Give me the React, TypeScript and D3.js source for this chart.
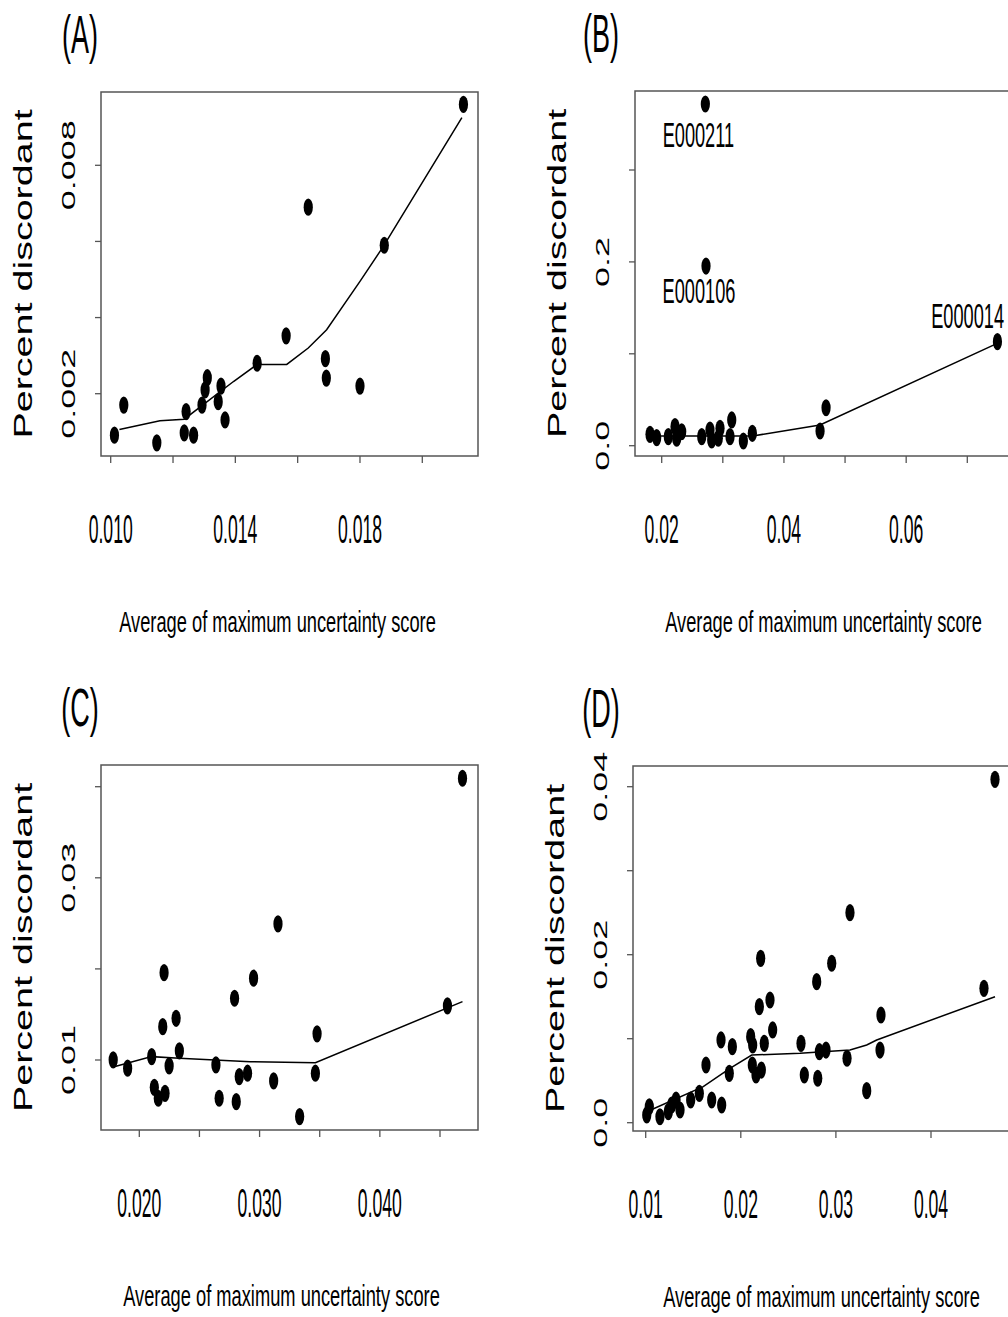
import * as React from 'react';
import * as d3 from 'd3';

// ---- data ----
const pointsA = [
  [0.01012, 0.00091], [0.01042, 0.0017], [0.01148, 0.00071], [0.01242, 0.00153], [0.01236, 0.00097],
  [0.01266, 0.00091], [0.01293, 0.0017], [0.01303, 0.0021], [0.0131, 0.00242], [0.01345, 0.00179],
  [0.01354, 0.0022], [0.01367, 0.00131], [0.0147, 0.0028], [0.01563, 0.00352], [0.01634, 0.0069],
  [0.01689, 0.00292], [0.01692, 0.00241], [0.018, 0.0022], [0.01878, 0.0059], [0.02132, 0.0096],
];
const lineA = [
  [0.01028, 0.00106], [0.01158, 0.00129], [0.01236, 0.00133], [0.01394, 0.00232], [0.0147, 0.00277],
  [0.01565, 0.00277], [0.01634, 0.0032], [0.01693, 0.00368], [0.018, 0.00495], [0.01875, 0.00587],
  [0.02127, 0.00925],
];

const pointsB = [
  [0.01809, 0.0124], [0.01918, 0.0087], [0.02108, 0.0098], [0.02218, 0.0207], [0.02245, 0.0081],
  [0.02327, 0.0152], [0.02655, 0.0098], [0.0279, 0.0171], [0.02818, 0.0062], [0.02954, 0.0189],
  [0.02926, 0.0081], [0.03146, 0.028], [0.03118, 0.0098], [0.03336, 0.0051], [0.03483, 0.0135],
  [0.04591, 0.016], [0.04689, 0.0413], [0.02714, 0.3718], [0.02725, 0.1955], [0.07493, 0.1132],
];
const lineB = [[0.0181, 0.0106], [0.0349, 0.0106], [0.0459, 0.0226], [0.0749, 0.1114]];
const labelsB = [
  { name: 'E000211', x: 0.026, y: 0.3254 },
  { name: 'E000106', x: 0.0261, y: 0.1553 },
  { name: 'E000014', x: 0.07005, y: 0.1281 },
];

const pointsC = [
  [0.01783, 0.01001], [0.01903, 0.0091], [0.02103, 0.01037], [0.02125, 0.007], [0.02158, 0.0058],
  [0.02214, 0.00634], [0.02206, 0.01959], [0.02195, 0.01366], [0.02248, 0.00935], [0.02306, 0.01458],
  [0.02333, 0.011], [0.02637, 0.00946], [0.02664, 0.0058], [0.02792, 0.01678], [0.02806, 0.00543],
  [0.02831, 0.00818], [0.029, 0.00855], [0.0295, 0.01898], [0.03153, 0.02494], [0.03117, 0.0077],
  [0.03333, 0.00379], [0.03478, 0.01287], [0.03464, 0.00855], [0.04562, 0.01594], [0.04687, 0.04093],
];
const lineC = [
  [0.01798, 0.00928], [0.02103, 0.01037], [0.02333, 0.0102], [0.02923, 0.00982], [0.03464, 0.00971],
  [0.04687, 0.01641],
];

const pointsD = [
  [0.01011, 0.00092], [0.01038, 0.0019], [0.0115, 0.00071], [0.01238, 0.00131], [0.01273, 0.00211],
  [0.01319, 0.0027], [0.01361, 0.00151], [0.01473, 0.0027], [0.01564, 0.0035], [0.01634, 0.00687],
  [0.01694, 0.0027], [0.01799, 0.00211], [0.01792, 0.00985], [0.01879, 0.00588], [0.01911, 0.00905],
  [0.02104, 0.01024], [0.02125, 0.00925], [0.02121, 0.00687], [0.0216, 0.00568], [0.02209, 0.01957],
  [0.02195, 0.01381], [0.02216, 0.00627], [0.02247, 0.00945], [0.02307, 0.01461], [0.02335, 0.01104],
  [0.02633, 0.00945], [0.02668, 0.00568], [0.02798, 0.01679], [0.02809, 0.00529], [0.02826, 0.00845],
  [0.02896, 0.00865], [0.02956, 0.01898], [0.03117, 0.00767], [0.03148, 0.025], [0.03324, 0.00381],
  [0.03474, 0.01282], [0.03464, 0.00865], [0.04557, 0.016], [0.04673, 0.04088],
];
const lineD = [
  [0.01011, 0.00131], [0.01605, 0.00429], [0.01886, 0.00648], [0.02115, 0.00806], [0.02623, 0.00826],
  [0.03148, 0.00865], [0.03324, 0.00925], [0.03429, 0.00985], [0.04673, 0.015],
];

const xTicksA = [0.01, 0.012, 0.014, 0.016, 0.018, 0.02];
const xLabelsA = ['0.010', '0.014', '0.018'];
const yTicksA = [0.002, 0.004, 0.006, 0.008];
const yLabelsA = ['0.002', '0.008'];

const xTicksB = [0.02, 0.03, 0.04, 0.05, 0.06, 0.07];
const xLabelsB = ['0.02', '0.04', '0.06'];
const yTicksB = [0, 0.1, 0.2, 0.3];
const yLabelsB = ['0.0', '0.2'];

const xTicksC = [0.02, 0.025, 0.03, 0.035, 0.04, 0.045];
const xLabelsC = ['0.020', '0.030', '0.040'];
const yTicksC = [0.01, 0.02, 0.03, 0.04];
const yLabelsC = ['0.01', '0.03'];

const xTicksD = [0.01, 0.02, 0.03, 0.04];
const xLabelsD = ['0.01', '0.02', '0.03', '0.04'];
const yTicksD = [0, 0.01, 0.02, 0.03, 0.04];
const yLabelsD = ['0.0', '0.02', '0.04'];

const xTitle = 'Average of maximum uncertainty score';
const yTitle = 'Percent discordant';

const FONT = '"Liberation Sans", Arial, Helvetica, sans-serif';
const AXIS_COLOR = '#555';

const panels = [
  {
    tag: '(A)', tagDx: -21, titleDx: -12, box: { x: 101, y: 92, w: 377, h: 364 },
    xd: [0.01, 0.02], xr: [110.7, 422.3], yd: [0.002, 0.008], yr: [393.7, 165.3],
    points: pointsA, line: lineA, xTicks: xTicksA, xLabels: xLabelsA, yTicks: yTicksA, yLabels: yLabelsA, labels: [],
  },
  {
    tag: '(B)', tagDx: -34, titleDx: 0, box: { x: 635, y: 91, w: 377, h: 365 },
    xd: [0.02, 0.07], xr: [661.7, 967.3], yd: [0, 0.3], yr: [445.7, 170],
    points: pointsB, line: lineB, xTicks: xTicksB, xLabels: xLabelsB, yTicks: yTicksB, yLabels: yLabelsB, labels: labelsB,
  },
  {
    tag: '(C)', tagDx: -21, titleDx: -8, box: { x: 101, y: 765, w: 377, h: 365 },
    xd: [0.02, 0.045], xr: [139.3, 440], yd: [0.01, 0.04], yr: [1060, 786.7],
    points: pointsC, line: lineC, xTicks: xTicksC, xLabels: xLabelsC, yTicks: yTicksC, yLabels: yLabelsC, labels: [],
  },
  {
    tag: '(D)', tagDx: -32, titleDx: 0, box: { x: 633, y: 766, w: 377, h: 365 },
    xd: [0.01, 0.04], xr: [645.7, 931], yd: [0, 0.04], yr: [1122.7, 786.7],
    points: pointsD, line: lineD, xTicks: xTicksD, xLabels: xLabelsD, yTicks: yTicksD, yLabels: yLabelsD, labels: [],
  },
];

function drawPanel(svg, p) {
  const x = d3.scaleLinear().domain(p.xd).range(p.xr);
  const y = d3.scaleLinear().domain(p.yd).range(p.yr);
  const b = p.box;
  const bottom = b.y + b.h;
  const g = svg.append('g');

  // panel tag
  g.append('text')
    .attr('transform', `translate(${b.x + p.tagDx},${b.y - 39}) scale(0.5,1)`)
    .attr('text-anchor', 'middle')
    .style('font-family', FONT)
    .style('font-size', '54px')
    .text(p.tag);

  g.append('rect')
    .attr('x', b.x).attr('y', b.y).attr('width', b.w).attr('height', b.h)
    .attr('fill', 'none').attr('stroke', AXIS_COLOR).attr('stroke-width', 1.5);

  // x axis ticks
  g.selectAll('.xt').data(p.xTicks).enter().append('line')
    .attr('x1', (d) => x(d)).attr('x2', (d) => x(d))
    .attr('y1', bottom).attr('y2', bottom + 7)
    .attr('stroke', AXIS_COLOR).attr('stroke-width', 1.3);

  g.selectAll('.xl').data(p.xLabels).enter().append('text')
    .attr('transform', (d) => `translate(${x(+d)},${bottom + 87}) scale(0.44,1)`)
    .attr('text-anchor', 'middle')
    .style('font-family', FONT).style('font-size', '40px')
    .text((d) => d);

  // y axis ticks
  g.selectAll('.yt').data(p.yTicks).enter().append('line')
    .attr('x1', b.x - 6).attr('x2', b.x)
    .attr('y1', (d) => y(d)).attr('y2', (d) => y(d))
    .attr('stroke', AXIS_COLOR).attr('stroke-width', 1.3);

  g.selectAll('.yl').data(p.yLabels).enter().append('text')
    .attr('transform', (d) => `translate(${b.x - 26},${y(+d)}) scale(0.52,1) rotate(-90)`)
    .attr('text-anchor', 'middle')
    .style('font-family', FONT).style('font-size', '36px')
    .text((d) => d);

  // axis titles
  g.append('text')
    .attr('transform', `translate(${b.x + b.w / 2 + p.titleDx},${bottom + 176}) scale(0.61,1)`)
    .attr('text-anchor', 'middle')
    .style('font-family', FONT).style('font-size', '30px')
    .text(xTitle);

  g.append('text')
    .attr('transform', `translate(${b.x - 69},${b.y + b.h / 2}) scale(0.65,1) rotate(-90)`)
    .attr('text-anchor', 'middle')
    .style('font-family', FONT).style('font-size', '39.5px')
    .text(yTitle);

  // smoother
  const line = d3.line().x((d) => x(d[0])).y((d) => y(d[1]));
  g.append('path')
    .datum(p.line)
    .attr('d', line)
    .attr('fill', 'none').attr('stroke', '#000').attr('stroke-width', 1.5);

  g.selectAll('.pt').data(p.points).enter().append('ellipse')
    .attr('cx', (d) => x(d[0])).attr('cy', (d) => y(d[1]))
    .attr('rx', 4.6).attr('ry', 8.6)
    .attr('fill', '#000');

  g.selectAll('.lab').data(p.labels).enter().append('text')
    .attr('transform', (d) => `translate(${x(d.x)},${y(d.y)}) scale(0.52,1)`)
    .attr('text-anchor', 'middle')
    .style('font-family', FONT).style('font-size', '35px')
    .text((d) => d.name);
}

const App = () => {
  const ref = React.useRef<SVGSVGElement | null>(null);

  React.useEffect(() => {
    if (!ref.current) return;
    const svg = d3.select(ref.current);
    svg.selectAll('*').remove();
    svg.append('rect').attr('width', 1008).attr('height', 1317).attr('fill', '#fff');
    panels.forEach((p) => drawPanel(svg, p));
  }, []);

  return (
    <svg
      ref={ref}
      width={1008}
      height={1317}
      style={{ position: 'absolute', left: 0, top: 0, display: 'block' }}
    />
  );
};

export default App;
